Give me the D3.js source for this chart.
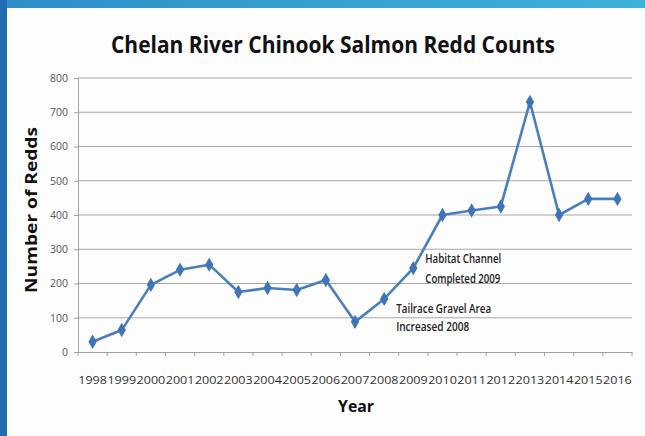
<!DOCTYPE html>
<html>
<head>
<meta charset="utf-8">
<script src="https://cdn.jsdelivr.net/npm/d3@7"></script>
<style>
  body { margin: 0; background: #fff; }
  svg { display: block; }
</style>
</head>
<body>
<div id="chart"></div>
<script>
const years = ["1998","1999","2000","2001","2002","2003","2004","2005","2006","2007",
  "2008","2009","2010","2011","2012","2013","2014","2015","2016"];
const redds = [30, 64, 196, 240, 255, 175, 187, 181, 210, 88,
  155, 245, 400, 413, 425, 730, 400, 447, 447];
const yTicks = [0, 100, 200, 300, 400, 500, 600, 700, 800];
const notes = [
  { year: "2009", lines: ["Habitat Channel", "Completed 2009"], dx: 12, dy: -5, gap: 20, len: [76, 75] },
  { year: "2008", lines: ["Tailrace Gravel Area", "Increased 2008"], dx: 12, dy: 14, gap: 18, len: [95, 73] }
];

const W = 645, H = 436;
const margin = { top: 78, right: 13, bottom: 84, left: 78 };
const width = W - margin.left - margin.right;
const height = H - margin.top - margin.bottom;
const FONT = "'Open Sans', 'Liberation Sans', sans-serif";

const svg = d3.select('#chart').append('svg')
  .attr('width', W).attr('height', H);

// slide frame
const grad = svg.append('defs').append('linearGradient')
  .attr('id', 'topband').attr('x1', 0).attr('x2', 1);
grad.append('stop').attr('offset', '0%').attr('stop-color', '#2f8fc8');
grad.append('stop').attr('offset', '100%').attr('stop-color', '#3fb0d8');
svg.append('rect').attr('width', W).attr('height', H).attr('fill', '#fdfdfd');
svg.append('rect').attr('width', W).attr('height', 8).attr('fill', 'url(#topband)');
svg.append('rect').attr('width', 7).attr('height', H).attr('fill', '#1f6db0');

const g = svg.append('g').attr('transform', `translate(${margin.left},${margin.top})`);

const x = d3.scaleBand().domain(years).range([0, width]);
const y = d3.scaleLinear().domain([0, 800]).range([height, 0]);

// gridlines
g.selectAll('.grid').data(yTicks.filter(d => d > 0)).enter()
  .append('line')
  .attr('x1', 0).attr('x2', width)
  .attr('y1', d => y(d)).attr('y2', d => y(d))
  .attr('stroke', '#a8a8a8').attr('stroke-width', 1);

// y axis
const yAxis = g.append('g').call(d3.axisLeft(y).tickValues(yTicks).tickSize(4).tickPadding(6));
yAxis.select('.domain').attr('stroke', '#a0a0a0');
yAxis.selectAll('.tick line').attr('stroke', '#a0a0a0');
yAxis.selectAll('text').attr('font-family', FONT).attr('font-size', 10.5).attr('fill', '#555');

// x axis
const xAxis = g.append('g').attr('transform', `translate(0,${height})`)
  .call(d3.axisBottom(x).tickSize(0).tickPadding(24));
xAxis.select('.domain').attr('stroke', '#a0a0a0');
xAxis.selectAll('text')
  .attr('font-family', FONT).attr('font-size', 11).attr('fill', '#333')
  .attr('textLength', x.bandwidth() - 0.5).attr('lengthAdjust', 'spacingAndGlyphs');
g.selectAll('.xtick').data(years.concat(['end'])).enter()
  .append('line')
  .attr('x1', (d, i) => i * x.step()).attr('x2', (d, i) => i * x.step())
  .attr('y1', height).attr('y2', height + 4)
  .attr('stroke', '#a0a0a0');

// series
const cx = d => x(d) + x.bandwidth() / 2;
const line = d3.line().x((d, i) => cx(years[i])).y(d => y(d));
g.append('path').datum(redds)
  .attr('d', line)
  .attr('fill', 'none')
  .attr('stroke', '#4a7ebf')
  .attr('stroke-width', 2.6)
  .attr('stroke-linejoin', 'round');

g.selectAll('.pt').data(redds).enter()
  .append('path')
  .attr('d', d3.symbol().type(d3.symbolDiamond).size(60))
  .attr('transform', (d, i) => `translate(${cx(years[i])},${y(d)})`)
  .attr('fill', '#3f74b8');

// annotations
notes.forEach(n => {
  const i = years.indexOf(n.year);
  const x0 = cx(n.year) + n.dx;
  const y0 = y(redds[i]) + n.dy;
  n.lines.forEach((l, k) => {
    g.append('text')
      .attr('x', x0).attr('y', y0 + k * n.gap)
      .attr('font-family', FONT).attr('font-size', 12).attr('font-weight', 600)
      .attr('fill', '#222')
      .attr('textLength', n.len[k]).attr('lengthAdjust', 'spacingAndGlyphs')
      .text(l);
  });
});

// titles
svg.append('text')
  .attr('x', 333).attr('y', 53)
  .attr('text-anchor', 'middle')
  .attr('font-family', FONT).attr('font-weight', 'bold').attr('font-size', 23)
  .attr('fill', '#111')
  .attr('textLength', 444).attr('lengthAdjust', 'spacingAndGlyphs')
  .text('Chelan River Chinook Salmon Redd Counts');

svg.append('text')
  .attr('transform', `translate(37,${margin.top + height / 2 - 5}) rotate(-90)`)
  .attr('text-anchor', 'middle')
  .attr('font-family', FONT).attr('font-weight', 'bold').attr('font-size', 16)
  .attr('fill', '#111')
  .attr('textLength', 166).attr('lengthAdjust', 'spacingAndGlyphs')
  .text('Number of Redds');

svg.append('text')
  .attr('x', 356).attr('y', 412)
  .attr('text-anchor', 'middle')
  .attr('font-family', FONT).attr('font-weight', 'bold').attr('font-size', 16)
  .attr('fill', '#111')
  .attr('textLength', 36).attr('lengthAdjust', 'spacingAndGlyphs')
  .text('Year');
</script>
</body>
</html>
